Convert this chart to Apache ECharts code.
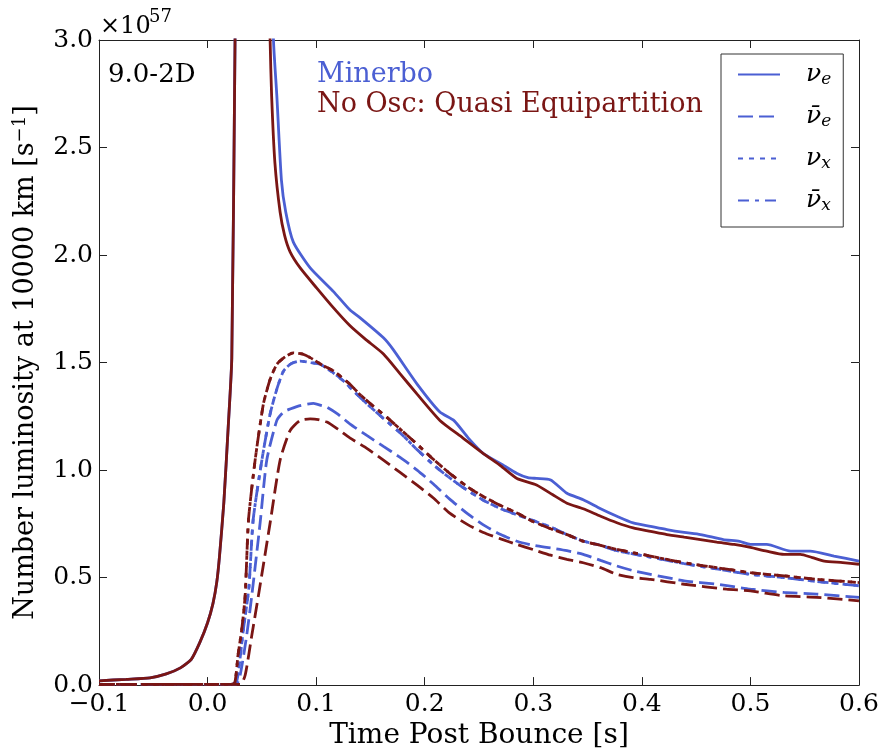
<!DOCTYPE html>
<html>
<head>
<meta charset="utf-8">
<script src="https://cdn.jsdelivr.net/npm/echarts@6/dist/echarts.min.js"></script>
<style>html,body{margin:0;padding:0;background:#fff}#c{width:885px;height:755px}</style>
</head>
<body>
<div id="c"></div>
<script>
// ---- Data: [time post bounce (s), number luminosity (1e57 /s)] ----
const preBurst = [[-0.1,0.02],[-0.075,0.027],[-0.053,0.034],[-0.038,0.052],[-0.025,0.08],[-0.015,0.12],[-0.007,0.2],[0.0,0.29],[0.005,0.38],[0.0085,0.48],[0.011,0.6],[0.015,0.85],[0.019,1.2],[0.0223,1.52],[0.0253,3.0],[0.0262,3.6]];

const minerbo_nue = preBurst.concat([[0.059,3.6],[0.0607,3.0],[0.0638,2.74],[0.068,2.35],[0.072,2.2],[0.079,2.06],[0.0945,1.94],[0.116,1.83],[0.131,1.745],[0.14,1.71],[0.162,1.615],[0.171,1.56],[0.193,1.40],[0.214,1.27],[0.227,1.23],[0.24,1.15],[0.254,1.077],[0.27,1.03],[0.285,0.984],[0.295,0.965],[0.303,0.961],[0.316,0.954],[0.331,0.892],[0.346,0.862],[0.362,0.82],[0.377,0.785],[0.392,0.754],[0.408,0.738],[0.423,0.723],[0.439,0.71],[0.454,0.70],[0.475,0.677],[0.49,0.668],[0.5,0.654],[0.515,0.654],[0.537,0.623],[0.555,0.623],[0.577,0.60],[0.6,0.577]]);

const noosc_nue = preBurst.concat([[0.056,3.6],[0.0576,3.0],[0.059,2.74],[0.062,2.43],[0.0668,2.2],[0.071,2.09],[0.076,2.015],[0.0853,1.94],[0.1006,1.846],[0.115,1.76],[0.131,1.672],[0.145,1.61],[0.162,1.54],[0.177,1.45],[0.193,1.353],[0.214,1.231],[0.235,1.15],[0.254,1.077],[0.27,1.02],[0.285,0.961],[0.303,0.931],[0.318,0.885],[0.331,0.846],[0.346,0.82],[0.362,0.785],[0.377,0.755],[0.392,0.731],[0.408,0.715],[0.423,0.70],[0.439,0.688],[0.454,0.677],[0.469,0.665],[0.485,0.654],[0.5,0.64],[0.515,0.623],[0.531,0.608],[0.546,0.608],[0.557,0.593],[0.568,0.577],[0.585,0.57],[0.6,0.562]]);

const minerbo_nuebar = [[-0.1,0.003],[0.026,0.003],[0.03,0.046],[0.036,0.23],[0.0407,0.415],[0.0484,0.754],[0.0545,1.046],[0.0638,1.231],[0.07,1.27],[0.076,1.284],[0.085,1.30],[0.0975,1.31],[0.105,1.30],[0.11,1.292],[0.12,1.26],[0.131,1.215],[0.147,1.16],[0.162,1.11],[0.177,1.06],[0.193,1.0],[0.208,0.935],[0.223,0.865],[0.24,0.795],[0.254,0.745],[0.27,0.70],[0.285,0.669],[0.3,0.65],[0.316,0.638],[0.331,0.625],[0.346,0.608],[0.362,0.58],[0.377,0.554],[0.392,0.532],[0.408,0.515],[0.439,0.485],[0.469,0.469],[0.5,0.446],[0.531,0.431],[0.561,0.423],[0.6,0.408]];

const noosc_nuebar = [[-0.1,0.003],[0.03,0.003],[0.0346,0.046],[0.0407,0.23],[0.0468,0.415],[0.0576,0.754],[0.0668,1.046],[0.076,1.184],[0.085,1.23],[0.0945,1.238],[0.102,1.235],[0.11,1.223],[0.12,1.19],[0.131,1.15],[0.147,1.10],[0.162,1.046],[0.177,0.99],[0.193,0.93],[0.208,0.87],[0.223,0.80],[0.24,0.745],[0.254,0.71],[0.27,0.68],[0.285,0.654],[0.3,0.63],[0.316,0.604],[0.331,0.585],[0.346,0.569],[0.362,0.546],[0.377,0.515],[0.392,0.50],[0.408,0.492],[0.439,0.469],[0.478,0.446],[0.5,0.438],[0.531,0.415],[0.561,0.408],[0.6,0.392]];

// nu_x and anti-nu_x curves lie on top of each other in the figure
const minerbo_nux = [[-0.1,0.003],[0.022,0.003],[0.027,0.02],[0.033,0.26],[0.038,0.45],[0.042,0.769],[0.05,1.046],[0.0576,1.261],[0.064,1.38],[0.07,1.461],[0.077,1.495],[0.0853,1.507],[0.095,1.50],[0.1037,1.492],[0.115,1.455],[0.125,1.415],[0.136,1.36],[0.147,1.307],[0.162,1.24],[0.177,1.175],[0.193,1.095],[0.208,1.025],[0.22,0.975],[0.235,0.92],[0.254,0.86],[0.27,0.82],[0.285,0.792],[0.3,0.765],[0.316,0.735],[0.331,0.70],[0.346,0.67],[0.362,0.65],[0.377,0.625],[0.408,0.595],[0.439,0.565],[0.469,0.54],[0.5,0.515],[0.531,0.5],[0.561,0.482],[0.6,0.462]];
const minerbo_nuxbar = minerbo_nux;

const noosc_nux = [[-0.1,0.003],[0.02,0.003],[0.025,0.01],[0.028,0.138],[0.0315,0.26],[0.0346,0.415],[0.0377,0.769],[0.0438,1.046],[0.0514,1.307],[0.0575,1.42],[0.0638,1.492],[0.071,1.525],[0.079,1.545],[0.087,1.54],[0.0945,1.523],[0.105,1.49],[0.116,1.461],[0.131,1.40],[0.14,1.353],[0.152,1.30],[0.165,1.246],[0.193,1.12],[0.208,1.05],[0.223,0.985],[0.24,0.92],[0.254,0.877],[0.27,0.835],[0.285,0.80],[0.3,0.76],[0.316,0.727],[0.331,0.70],[0.346,0.669],[0.362,0.65],[0.377,0.631],[0.408,0.60],[0.439,0.569],[0.469,0.546],[0.5,0.523],[0.531,0.508],[0.561,0.492],[0.6,0.477]];
const noosc_nuxbar = noosc_nux;

const xTicks = [-0.1, 0.6, 0.1];   // min, max, step
const yTicks = [0, 3, 0.5];

const BLUE = '#4b5fd3';
const RED = '#7a1614';
const FONT = 'DejaVu Serif';

const styles = {
  nue: 'solid',
  nuebar: [15, 6],
  nux: [5, 6],
  nuxbar: [11, 6, 4, 6]
};

function mk(name, data, color, key, showInLegend) {
  return {
    name: name, type: 'line', data: data, showSymbol: false, symbol: 'circle', symbolSize: 0,
    smooth: 0.2, clip: true, silent: true,
    lineStyle: { color: color, width: 2.8, type: styles[key] },
    itemStyle: { color: color },
    z: showInLegend ? 2 : 3
  };
}

const series = [
  mk('nue', minerbo_nue, BLUE, 'nue', true),
  mk('nuebar', minerbo_nuebar, BLUE, 'nuebar', true),
  mk('nux', minerbo_nux, BLUE, 'nux', true),
  mk('nuxbar', minerbo_nuxbar, BLUE, 'nuxbar', true),
  mk('nue_noosc', noosc_nue, RED, 'nue', false),
  mk('nuebar_noosc', noosc_nuebar, RED, 'nuebar', false),
  mk('nux_noosc', noosc_nux, RED, 'nux', false),
  mk('nuxbar_noosc', noosc_nuxbar, RED, 'nuxbar', false)
];

const legendText = {
  nue: '{g| }{n|ν}{s|e}',
  nuebar: '{g| }{n|ν̄}{s|e}',
  nux: '{g| }{n|ν}{s|x}',
  nuxbar: '{g| }{n|ν̄}{s|x}'
};

function fmt(v) {
  let s = (Math.abs(v) < 1e-9 ? 0 : v).toFixed(1);
  return s.replace('-', '\u2212');
}

const axisLineStyle = { color: '#222', width: 1 };
function xAxis(pos, show) {
  return {
    type: 'value', position: pos, min: xTicks[0], max: xTicks[1], interval: xTicks[2],
    axisLine: { show: true, onZero: false, lineStyle: axisLineStyle },
    axisTick: { show: true, inside: true, length: 8, lineStyle: axisLineStyle },
    splitLine: { show: false },
    axisLabel: { show: show, formatter: fmt, fontFamily: FONT, fontSize: 25, color: '#000', margin: 7 },
    name: show ? 'Time Post Bounce [s]' : '', nameLocation: 'middle', nameGap: 33,
    nameTextStyle: { fontFamily: FONT, fontSize: 28, color: '#000' }
  };
}
function yAxis(pos, show) {
  return {
    type: 'value', position: pos, min: yTicks[0], max: yTicks[1], interval: yTicks[2],
    axisLine: { show: true, onZero: false, lineStyle: axisLineStyle },
    axisTick: { show: true, inside: true, length: 8, lineStyle: axisLineStyle },
    splitLine: { show: false },
    axisLabel: { show: show, formatter: fmt, fontFamily: FONT, fontSize: 25, color: '#000', margin: 6 },
    name: show ? '{n|Number luminosity at 10000 km [s}{s|\u22121}{n|]}' : '',
    nameLocation: 'middle', nameGap: 58,
    nameTextStyle: {
      fontFamily: FONT, fontSize: 27, color: '#000',
      rich: {
        n: { fontFamily: FONT, fontSize: 27, color: '#000' },
        s: { fontFamily: FONT, fontSize: 18, color: '#000', padding: [0, 0, 12, 0] }
      }
    }
  };
}

const chart = echarts.init(document.getElementById('c'), null, { renderer: 'canvas' });
chart.setOption({
  animation: false,
  backgroundColor: '#fff',
  grid: { left: 99, right: 26, top: 40, bottom: 65, containLabel: false },
  xAxis: [xAxis('bottom', true), xAxis('top', false)],
  yAxis: [yAxis('left', true), yAxis('right', false)],
  legend: {
    data: ['nue', 'nuebar', 'nux', 'nuxbar'],
    orient: 'vertical', left: 721, top: 54,
    padding: [7, 12, 13, 16], itemGap: 15, itemWidth: 42, itemHeight: 26,
    borderColor: '#333', borderWidth: 1, backgroundColor: '#fff',
    selectedMode: false,
    itemStyle: { opacity: 0 },
    formatter: function (n) { return legendText[n]; },
    textStyle: {
      fontFamily: FONT, fontSize: 22, color: '#000',
      rich: {
        g: { width: 21, fontSize: 22, lineHeight: 26 },
        n: { fontFamily: FONT, fontStyle: 'italic', fontSize: 25, lineHeight: 26, color: '#000' },
        s: { fontFamily: FONT, fontStyle: 'italic', fontSize: 17, lineHeight: 16, padding: [10, 0, 0, 0], color: '#000' }
      }
    }
  },
  graphic: [
    { type: 'text', x: 100, y: 27, style: { text: '\u00d710', font: '24px "DejaVu Serif"', fill: '#000', verticalAlign: 'middle' } },
    { type: 'text', x: 149, y: 17, style: { text: '57', font: '18px "DejaVu Serif"', fill: '#000', verticalAlign: 'middle' } },
    { type: 'text', x: 108, y: 75, style: { text: '9.0-2D', font: '26px "DejaVu Serif"', fill: '#000', verticalAlign: 'middle' } },
    { type: 'text', x: 317, y: 75, style: { text: 'Minerbo', font: '27px "DejaVu Serif"', fill: BLUE, verticalAlign: 'middle' } },
    { type: 'text', x: 317, y: 105, style: { text: 'No Osc: Quasi Equipartition', font: '27px "DejaVu Serif"', fill: RED, verticalAlign: 'middle' } }
  ],
  series: series
});
</script>
</body>
</html>
